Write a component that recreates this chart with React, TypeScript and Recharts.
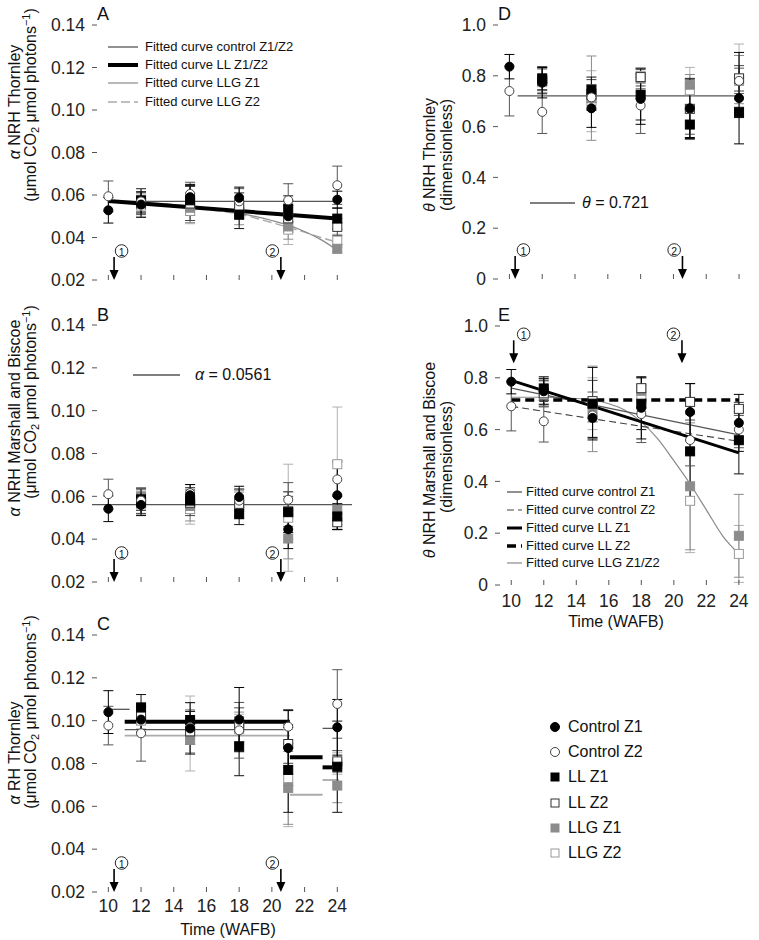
import React from 'react';
import { ComposedChart, Scatter, Line, XAxis, YAxis, ErrorBar, ReferenceArea } from 'recharts';

const FONT = '"Liberation Sans", Arial, Helvetica, "DejaVu Sans", sans-serif';

// sampling weeks and axis ticks
const weeks = [10, 12, 15, 18, 21, 24];
const weekTicks = [10, 12, 14, 16, 18, 20, 22, 24];
const alphaTicks = [0.02, 0.04, 0.06, 0.08, 0.1, 0.12, 0.14];
const thetaTicks = [0, 0.2, 0.4, 0.6, 0.8, 1.0];
const arrowWeeks = [10.35, 20.55];
const arrowWeeksE = [10.15, 20.5];
const arrowLabels = ['1', '2'];

// A: alpha NRH Thornley
const aCtrlZ1 = [0.0528, 0.0555, 0.059, 0.0587, 0.05, 0.0578];
const aCtrlZ1Err = [0.006, 0.006, 0.006, 0.005, 0.0075, 0.004];
const aCtrlZ2 = [0.0594, 0.057, 0.0605, 0.057, 0.0575, 0.0646];
const aCtrlZ2Err = [0.0072, 0.006, 0.0055, 0.006, 0.0078, 0.009];
const aLLZ1 = [null, 0.0575, 0.0575, 0.0507, 0.0536, 0.0489];
const aLLZ1Err = [null, 0.0055, 0.007, 0.0065, 0.006, 0.005];
const aLLZ2 = [null, 0.056, 0.056, 0.055, 0.049, 0.045];
const aLLZ2Err = [null, 0.005, 0.008, 0.006, 0.006, 0.004];
const aLLGZ1 = [null, 0.0565, 0.054, 0.052, 0.0452, 0.0347];
const aLLGZ1Err = [null, 0.005, 0.007, 0.006, 0.006, 0.002];
const aLLGZ2 = [null, 0.055, 0.0525, 0.055, 0.0437, 0.0385];
const aLLGZ2Err = [null, 0.005, 0.006, 0.006, 0.007, 0.003];
const aFitCtrlX = [10, 24];
const aFitCtrlY = [0.057, 0.057];
const aFitLLX = [10, 24];
const aFitLLY = [0.0572, 0.0489];
const aFitLLGX = [10, 12, 14, 16, 18, 20, 21, 22, 23, 24];
const aFitLLGZ1Y = [0.0572, 0.0565, 0.0555, 0.054, 0.0515, 0.048, 0.0458, 0.0428, 0.039, 0.034];
const aFitLLGZ2Y = [0.0572, 0.0562, 0.055, 0.0532, 0.051, 0.047, 0.0448, 0.0425, 0.04, 0.0378];

// B: alpha NRH Marshall and Biscoe
const bCtrlZ1 = [0.0542, 0.056, 0.0605, 0.0597, 0.0446, 0.0605];
const bCtrlZ1Err = [0.006, 0.005, 0.005, 0.005, 0.009, 0.016];
const bCtrlZ2 = [0.061, 0.058, 0.0615, 0.058, 0.0584, 0.0679];
const bCtrlZ2Err = [0.007, 0.006, 0.004, 0.005, 0.008, 0.008];
const bLLZ1 = [null, 0.0585, 0.058, 0.0518, 0.0526, 0.0506];
const bLLZ1Err = [null, 0.005, 0.006, 0.005, 0.0095, 0.006];
const bLLZ2 = [null, 0.057, 0.057, 0.0565, 0.053, 0.0479];
const bLLZ2Err = [null, 0.005, 0.006, 0.007, 0.007, 0.0035];
const bLLGZ1 = [null, 0.0575, 0.0555, 0.056, 0.0403, 0.0537];
const bLLGZ1Err = [null, 0.0055, 0.007, 0.006, 0.0095, 0.007];
const bLLGZ2 = [null, 0.0565, 0.054, 0.057, 0.05, 0.075];
const bLLGZ2Err = [null, 0.005, 0.007, 0.006, 0.025, 0.0267];
const bFitX = [9, 24.9];
const bFitY = [0.0561, 0.0561];

// C: alpha RH Thornley
const cCtrlZ1 = [0.104, 0.1005, 0.0964, 0.1005, 0.0872, 0.0969];
const cCtrlZ1Err = [0.01, 0.006, 0.012, 0.015, 0.0175, 0.013];
const cCtrlZ2 = [0.0977, 0.0941, 0.097, 0.0955, 0.0972, 0.1078];
const cCtrlZ2Err = [0.009, 0.013, 0.008, 0.013, 0.008, 0.016];
const cLLZ1 = [null, 0.1062, 0.1003, 0.088, 0.077, 0.0785];
const cLLZ1Err = [null, 0.006, 0.004, 0.0137, 0.0198, 0.0213];
const cLLZ2 = [null, 0.102, 0.095, 0.098, 0.0891, 0.081];
const cLLZ2Err = [null, 0.006, 0.006, 0.008, 0.009, 0.005];
const cLLGZ1 = [null, 0.101, 0.091, 0.097, 0.0686, 0.0697];
const cLLGZ1Err = [null, 0.006, 0.006, 0.007, 0.017, 0.008];
const cLLGZ2 = [null, 0.1, 0.094, 0.096, 0.0732, 0.08];
const cLLGZ2Err = [null, 0.006, 0.0175, 0.007, 0.0227, 0.005];
// step fits: [fromWeek, toWeek, value]
const cStepCtrl = [[10, 11.3, 0.1053], [11, 21.1, 0.0958], [23.1, 24.1, 0.0964]];
const cStepLL = [[11, 21.1, 0.0995], [21.1, 23.1, 0.0829], [23.1, 24.1, 0.0782]];
const cStepLLG = [[11, 21.1, 0.093], [21.1, 23.1, 0.0654], [23.1, 24.1, 0.0723]];

// D: theta NRH Thornley
const dCtrlZ1 = [0.836, 0.773, 0.672, 0.709, 0.672, 0.712];
const dCtrlZ1Err = [0.048, 0.06, 0.075, 0.1, 0.115, 0.18];
const dCtrlZ2 = [0.74, 0.658, 0.715, 0.683, 0.67, 0.78];
const dCtrlZ2Err = [0.098, 0.085, 0.05, 0.11, 0.1, 0.05];
const dLLZ1 = [null, 0.79, 0.745, 0.726, 0.608, 0.656];
const dLLZ1Err = [null, 0.045, 0.05, 0.1, 0.055, 0.02];
const dLLZ2 = [null, 0.78, 0.725, 0.795, 0.67, 0.79];
const dLLZ2Err = [null, 0.05, 0.06, 0.035, 0.12, 0.05];
const dLLGZ1 = [null, 0.785, 0.712, 0.79, 0.765, 0.785];
const dLLGZ1Err = [null, 0.05, 0.166, 0.04, 0.04, 0.095];
const dLLGZ2 = [null, 0.775, 0.7, 0.8, 0.743, 0.78];
const dLLGZ2Err = [null, 0.05, 0.12, 0.03, 0.09, 0.145];
const dFitX = [10.5, 24];
const dFitY = [0.721, 0.721];

// E: theta NRH Marshall and Biscoe
const eCtrlZ1 = [0.785, 0.748, 0.645, 0.684, 0.668, 0.626];
const eCtrlZ1Err = [0.047, 0.05, 0.075, 0.12, 0.11, 0.11];
const eCtrlZ2 = [0.69, 0.632, 0.655, 0.66, 0.56, 0.6];
const eCtrlZ2Err = [0.095, 0.08, 0.09, 0.11, 0.1, 0.07];
const eLLZ1 = [null, 0.759, 0.7, 0.7, 0.516, 0.559];
const eLLZ1Err = [null, 0.045, 0.14, 0.1, 0.195, 0.13];
const eLLZ2 = [null, 0.74, 0.71, 0.76, 0.707, 0.68];
const eLLZ2Err = [null, 0.05, 0.08, 0.015, 0.07, 0.025];
const eLLGZ1 = [null, 0.745, 0.68, 0.75, 0.381, 0.19];
const eLLGZ1Err = [null, 0.05, 0.165, 0.05, 0.245, 0.16];
const eLLGZ2 = [null, 0.735, 0.7, 0.72, 0.325, 0.12];
const eLLGZ2Err = [null, 0.05, 0.1, 0.05, 0.2, 0.11];
const eFitX = [10, 24];
const eFitCtrlZ1Y = [0.76, 0.58];
const eFitCtrlZ2Y = [0.69, 0.555];
const eFitLLZ1Y = [0.79, 0.51];
const eFitLLZ2Y = [0.714, 0.714];
const eFitLLGX = [10, 12, 14, 15, 16, 17, 18, 19, 20, 21, 22, 23, 24];
const eFitLLGY = [0.725, 0.725, 0.72, 0.715, 0.7, 0.675, 0.63, 0.565, 0.48, 0.39, 0.29, 0.19, 0.12];

const MARK = {
  llgZ2: { shape: 'square', fill: '#fff', stroke: '#9a9a9a', bar: '#b0b0b0' },
  llgZ1: { shape: 'square', fill: '#8c8c8c', stroke: '#8c8c8c', bar: '#8c8c8c' },
  llZ2: { shape: 'square', fill: '#fff', stroke: '#333', bar: '#444' },
  llZ1: { shape: 'square', fill: '#000', stroke: '#000', bar: '#111' },
  cZ2: { shape: 'circle', fill: '#fff', stroke: '#444', bar: '#555' },
  cZ1: { shape: 'circle', fill: '#000', stroke: '#000', bar: '#000' },
};

const LINE: Record<string, { stroke: string; width: number; dash?: string }> = {
  ctrl: { stroke: '#555', width: 1.3 },
  ctrlDash: { stroke: '#444', width: 1.1, dash: '7 4' },
  ll: { stroke: '#000', width: 4 },
  llThin: { stroke: '#000', width: 3 },
  llDash: { stroke: '#000', width: 3.5, dash: '9 5' },
  llg: { stroke: '#8a8a8a', width: 1.2 },
  llgDash: { stroke: '#aaa', width: 1.4, dash: '9 4' },
  llgLight: { stroke: '#aaa', width: 1.8 },
};

type Pts = { key: keyof typeof MARK; ys: (number | null)[]; es: (number | null)[] };
type Fit = { xs: number[]; ys: number[]; style: string; smooth?: boolean };

const rows = (xs: number[], ys: (number | null)[], es?: (number | null)[]) =>
  xs.flatMap((x, i) => (ys[i] == null ? [] : [{ x, y: ys[i] as number, e: es ? es[i] : undefined }]));

const stepFits = (steps: number[][], style: string): Fit[] =>
  steps.map(([x0, x1, v]) => ({ xs: [x0, x1], ys: [v, v], style }));

const marker = (m: (typeof MARK)[keyof typeof MARK]) => (p: any) => {
  const { cx, cy } = p;
  if (cx == null || cy == null) return <g />;
  if (m.shape === 'circle')
    return <circle cx={cx} cy={cy} r={4.5} fill={m.fill} stroke={m.stroke} strokeWidth={1} />;
  return <rect x={cx - 4.5} y={cy - 4.5} width={9} height={9} fill={m.fill} stroke={m.stroke} strokeWidth={1} />;
};

// arrow pointing down at (cx, cy) with a circled number label
const arrowShape = (dxs: number[]) => (p: any) => {
  const { cx, cy, payload } = p;
  const i = payload.n;
  const lx = cx + dxs[i];
  const ly = cy - 29;
  return (
    <g>
      <line x1={cx} y1={cy - 23} x2={cx} y2={cy - 8} stroke="#000" strokeWidth={1.6} />
      <path d={`M${cx - 4.5},${cy - 10} L${cx + 4.5},${cy - 10} L${cx},${cy} Z`} fill="#000" />
      <circle cx={lx} cy={ly} r={6.3} fill="#fff" stroke="#111" strokeWidth={0.9} />
      <text x={lx} y={ly + 0.5} textAnchor="middle" dominantBaseline="central" fontSize={10.5} fontFamily={FONT} fill="#111">
        {arrowLabels[i]}
      </text>
    </g>
  );
};

type PanelProps = {
  left: number; top: number; width: number; height: number;
  xMax: number; yDomain: [number, number]; yTicks: number[]; yFmt: (v: number) => string;
  xLabels: boolean; xMargin?: number;
  points: Pts[]; fits: Fit[];
  arrowXs: number[]; arrowY: number; arrowDx: number[];
};

function Panel(p: PanelProps) {
  const ML = 92, MT = 25, MR = 8, XH = 40;
  const tickStyle = { fontSize: 17.5, fill: '#222', fontFamily: FONT };
  return (
    <div style={{ position: 'absolute', left: p.left - ML, top: p.top - MT }}>
      <ComposedChart width={p.width + ML + MR} height={p.height + MT + XH} margin={{ top: MT, right: MR, left: 0, bottom: 0 }}
        style={{ fontSize: 17.5, fontFamily: FONT }}>
        <XAxis dataKey="x" type="number" domain={[9, p.xMax]} ticks={weekTicks} allowDataOverflow
          axisLine={false} tickSize={-5} tickMargin={p.xMargin ?? 13} height={XH} fontSize={17.5}
          tick={p.xLabels ? tickStyle : () => <g />} tickLine={{ stroke: '#555' }} />
        <YAxis type="number" domain={p.yDomain} ticks={p.yTicks} allowDataOverflow width={ML}
          axisLine={false} tickSize={-5} tickMargin={12} tickFormatter={p.yFmt} fontSize={17.5}
          tick={tickStyle} tickLine={{ stroke: '#555' }} />
        <ReferenceArea fill="none" stroke="#555" strokeWidth={1} fillOpacity={0} ifOverflow="visible" />
        {p.fits.map((f, i) => {
          const s = LINE[f.style];
          return (
            <Line key={'f' + i} data={rows(f.xs, f.ys)} dataKey="y" type={f.smooth ? 'monotone' : 'linear'}
              stroke={s.stroke} strokeWidth={s.width} strokeDasharray={s.dash} dot={false} activeDot={false}
              isAnimationActive={false} legendType="none" />
          );
        })}
        {p.points.map((s) => {
          const m = MARK[s.key];
          return (
            <Scatter key={s.key} data={rows(weeks, s.ys, s.es)} dataKey="y" shape={marker(m)} isAnimationActive={false}>
              <ErrorBar dataKey="e" direction="y" width={5} stroke={m.bar} strokeWidth={1} />
            </Scatter>
          );
        })}
        <Scatter data={p.arrowXs.map((x, n) => ({ x, y: p.arrowY, n }))} dataKey="y"
          shape={arrowShape(p.arrowDx)} isAnimationActive={false} />
      </ComposedChart>
    </div>
  );
}

const fmtAlpha = (v: number) => v.toFixed(2);
const fmtTheta = (v: number) => (v === 0 ? '0' : v.toFixed(1));

const T = ({ x, y, size = 16, children, center = false }: any) => (
  <div style={{ position: 'absolute', left: x, top: y, transform: center ? 'translate(-50%,-50%)' : 'translateY(-50%)', whiteSpace: 'nowrap', fontSize: size, lineHeight: 1.15 }}>
    {children}
  </div>
);

const V = ({ x, y, children }: any) => (
  <div style={{ position: 'absolute', left: x, top: y, transform: 'translate(-50%,-50%) rotate(-90deg)', whiteSpace: 'nowrap', fontSize: 16, lineHeight: 1.15 }}>
    {children}
  </div>
);

const Units = () => (
  <span>(μmol CO<sub style={{ fontSize: 11, verticalAlign: '-3px' }}>2</sub> μmol photons<sup style={{ fontSize: 11, verticalAlign: '6px' }}>−1</sup>)</span>
);

const LineSample = ({ x, y, w, style }: any) => {
  const s = LINE[style];
  return (
    <svg style={{ position: 'absolute', left: x, top: y - 4 }} width={w} height={8}>
      <line x1={0} y1={4} x2={w} y2={4} stroke={s.stroke} strokeWidth={s.width} strokeDasharray={s.dash} />
    </svg>
  );
};

const LegendMark = ({ x, y, k }: any) => {
  const m = MARK[k as keyof typeof MARK];
  return (
    <svg style={{ position: 'absolute', left: x - 6, top: y - 6 }} width={12} height={12}>
      {m.shape === 'circle'
        ? <circle cx={6} cy={6} r={4.5} fill={m.fill} stroke={m.stroke} />
        : <rect x={2} y={2} width={8} height={8} fill={m.fill} stroke={m.stroke} />}
    </svg>
  );
};

export default function App() {
  const pointsOf = (c1: any, c1e: any, c2: any, c2e: any, l1: any, l1e: any, l2: any, l2e: any, g1: any, g1e: any, g2: any, g2e: any): Pts[] => [
    { key: 'llgZ2', ys: g2, es: g2e },
    { key: 'llgZ1', ys: g1, es: g1e },
    { key: 'llZ2', ys: l2, es: l2e },
    { key: 'llZ1', ys: l1, es: l1e },
    { key: 'cZ2', ys: c2, es: c2e },
    { key: 'cZ1', ys: c1, es: c1e },
  ];
  const legendRows = [
    ['cZ1', 'Control Z1'], ['cZ2', 'Control Z2'], ['llZ1', 'LL Z1'],
    ['llZ2', 'LL Z2'], ['llgZ1', 'LLG Z1'], ['llgZ2', 'LLG Z2'],
  ];
  return (
    <div style={{ position: 'absolute', left: 0, top: 0, width: 759, height: 940, background: '#fff', fontFamily: FONT, color: '#111', overflow: 'hidden' }}>
      <Panel left={92} top={25} width={260} height={255} xMax={24.9} yDomain={[0.02, 0.14]} yTicks={alphaTicks} yFmt={fmtAlpha}
        xLabels={false} arrowXs={arrowWeeks} arrowY={0.02} arrowDx={[7.5, -8.5]}
        points={pointsOf(aCtrlZ1, aCtrlZ1Err, aCtrlZ2, aCtrlZ2Err, aLLZ1, aLLZ1Err, aLLZ2, aLLZ2Err, aLLGZ1, aLLGZ1Err, aLLGZ2, aLLGZ2Err)}
        fits={[
          { xs: aFitLLGX, ys: aFitLLGZ2Y, style: 'llgDash', smooth: true },
          { xs: aFitLLGX, ys: aFitLLGZ1Y, style: 'llg', smooth: true },
          { xs: aFitCtrlX, ys: aFitCtrlY, style: 'ctrl' },
          { xs: aFitLLX, ys: aFitLLY, style: 'll' },
        ]} />
      <Panel left={92} top={325} width={260} height={257} xMax={24.9} yDomain={[0.02, 0.14]} yTicks={alphaTicks} yFmt={fmtAlpha}
        xLabels={false} arrowXs={arrowWeeks} arrowY={0.02} arrowDx={[7.5, -8.5]}
        points={pointsOf(bCtrlZ1, bCtrlZ1Err, bCtrlZ2, bCtrlZ2Err, bLLZ1, bLLZ1Err, bLLZ2, bLLZ2Err, bLLGZ1, bLLGZ1Err, bLLGZ2, bLLGZ2Err)}
        fits={[{ xs: bFitX, ys: bFitY, style: 'ctrl' }]} />
      <Panel left={92} top={635} width={260} height={257} xMax={24.9} yDomain={[0.02, 0.14]} yTicks={alphaTicks} yFmt={fmtAlpha}
        xLabels xMargin={13} arrowXs={arrowWeeks} arrowY={0.02} arrowDx={[7.5, -8.5]}
        points={pointsOf(cCtrlZ1, cCtrlZ1Err, cCtrlZ2, cCtrlZ2Err, cLLZ1, cLLZ1Err, cLLZ2, cLLZ2Err, cLLGZ1, cLLGZ1Err, cLLGZ2, cLLGZ2Err)}
        fits={[...stepFits(cStepLLG, 'llgLight'), ...stepFits(cStepCtrl, 'ctrl'), ...stepFits(cStepLL, 'll')]} />
      <Panel left={493} top={25} width={260} height={254} xMax={24.85} yDomain={[0, 1]} yTicks={thetaTicks} yFmt={fmtTheta}
        xLabels={false} arrowXs={arrowWeeks} arrowY={0} arrowDx={[8.3, -8.3]}
        points={pointsOf(dCtrlZ1, dCtrlZ1Err, dCtrlZ2, dCtrlZ2Err, dLLZ1, dLLZ1Err, dLLZ2, dLLZ2Err, dLLGZ1, dLLGZ1Err, dLLGZ2, dLLGZ2Err)}
        fits={[{ xs: dFitX, ys: dFitY, style: 'ctrl' }]} />
      <Panel left={495} top={326} width={252} height={259} xMax={24.5} yDomain={[0, 1]} yTicks={thetaTicks} yFmt={fmtTheta}
        xLabels xMargin={15} arrowXs={arrowWeeksE} arrowY={0.856} arrowDx={[10, -8.5]}
        points={pointsOf(eCtrlZ1, eCtrlZ1Err, eCtrlZ2, eCtrlZ2Err, eLLZ1, eLLZ1Err, eLLZ2, eLLZ2Err, eLLGZ1, eLLGZ1Err, eLLGZ2, eLLGZ2Err)}
        fits={[
          { xs: eFitLLGX, ys: eFitLLGY, style: 'llg', smooth: true },
          { xs: eFitX, ys: eFitCtrlZ1Y, style: 'ctrl' },
          { xs: eFitX, ys: eFitCtrlZ2Y, style: 'ctrlDash' },
          { xs: eFitX, ys: eFitLLZ1Y, style: 'llThin' },
          { xs: eFitX, ys: eFitLLZ2Y, style: 'llDash' },
        ]} />

      {/* panel letters */}
      <T x={97} y={13.5} size={18}>A</T>
      <T x={97} y={315} size={18}>B</T>
      <T x={97} y={624} size={18}>C</T>
      <T x={498} y={13.5} size={18}>D</T>
      <T x={498} y={315} size={18}>E</T>

      {/* y-axis titles */}
      <V x={15} y={102}><i>α</i> NRH Thornley</V>
      <V x={31} y={105}><Units /></V>
      <V x={15} y={418}><i>α</i> NRH Marshall and Biscoe</V>
      <V x={31} y={402}><Units /></V>
      <V x={15} y={753}><i>α</i> RH Thornley</V>
      <V x={31} y={712}><Units /></V>
      <V x={430} y={155}><i>θ</i> NRH Thornley</V>
      <V x={447} y={155}>(dimensionless)</V>
      <V x={430} y={460}><i>θ</i> NRH Marshall and Biscoe</V>
      <V x={447} y={457}>(dimensionless)</V>

      {/* x-axis titles */}
      <T x={228} y={930} center>Time (WAFB)</T>
      <T x={616} y={622} center>Time (WAFB)</T>

      {/* panel A legend */}
      <LineSample x={108} y={47} w={30} style="ctrl" />
      <T x={145} y={47} size={13}>Fitted curve control Z1/Z2</T>
      <LineSample x={108} y={65} w={30} style="ll" />
      <T x={145} y={65} size={13}>Fitted curve LL Z1/Z2</T>
      <LineSample x={108} y={83} w={30} style="llg" />
      <T x={145} y={83} size={13}>Fitted curve LLG Z1</T>
      <LineSample x={108} y={102} w={30} style="llgDash" />
      <T x={145} y={102} size={13}>Fitted curve LLG Z2</T>

      {/* panel B / D annotations */}
      <LineSample x={133} y={375} w={47} style="ctrl" />
      <T x={195} y={375}><i>α</i> = 0.0561</T>
      <LineSample x={530} y={203} w={45} style="ctrl" />
      <T x={582} y={203}><i>θ</i> = 0.721</T>

      {/* panel E legend */}
      <LineSample x={507} y={492} w={15} style="ctrl" />
      <T x={526} y={492} size={13}>Fitted curve control Z1</T>
      <LineSample x={507} y={510} w={15} style="ctrlDash" />
      <T x={526} y={510} size={13}>Fitted curve control Z2</T>
      <LineSample x={507} y={528} w={15} style="llThin" />
      <T x={526} y={528} size={13}>Fitted curve LL Z1</T>
      <LineSample x={507} y={546} w={15} style="llDash" />
      <T x={526} y={546} size={13}>Fitted curve LL Z2</T>
      <LineSample x={507} y={563} w={15} style="llg" />
      <T x={526} y={563} size={13}>Fitted curve LLG Z1/Z2</T>

      {/* symbol legend */}
      {legendRows.map(([k, label], i) => (
        <React.Fragment key={k}>
          <LegendMark x={555} y={727 + i * 25.2} k={k} />
          <T x={568} y={727 + i * 25.2}>{label}</T>
        </React.Fragment>
      ))}
    </div>
  );
}
